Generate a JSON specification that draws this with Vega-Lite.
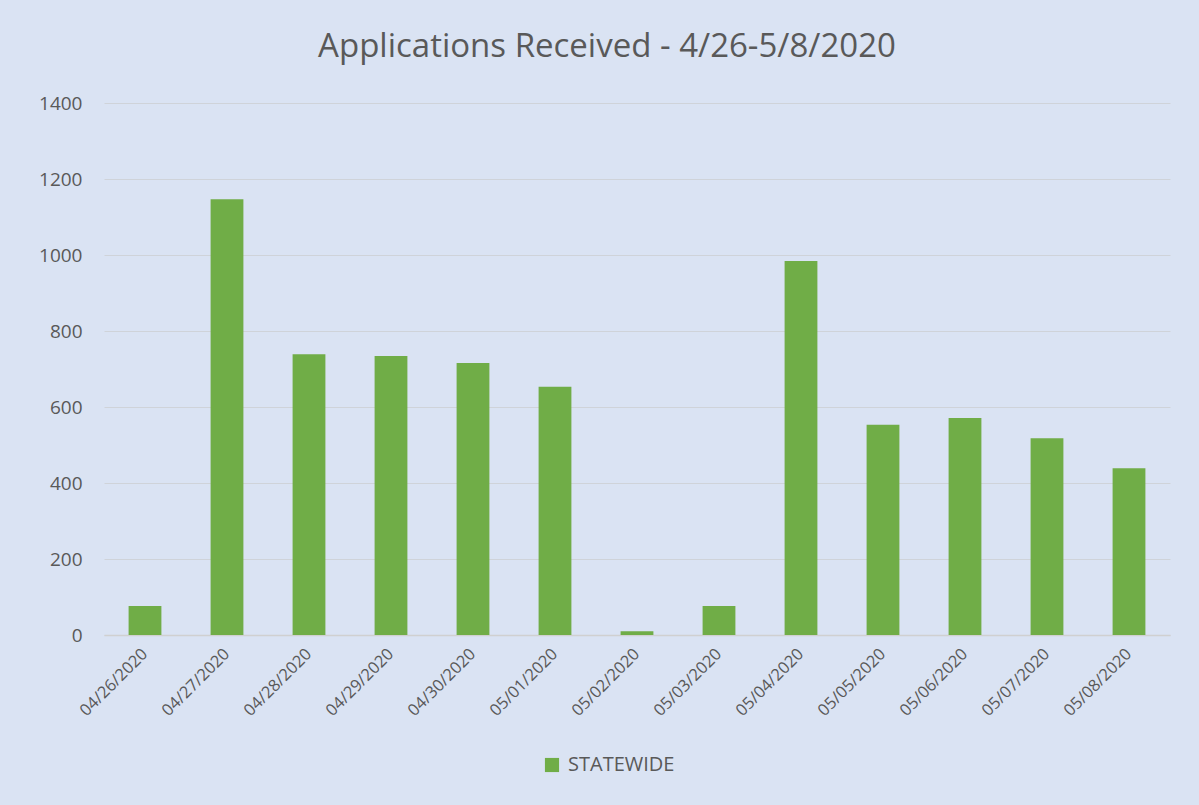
{
  "$schema": "https://vega.github.io/schema/vega-lite/v6.json",
  "autosize": "none",
  "width": 1066,
  "height": 532,
  "padding": {"left": 104, "top": 103, "right": 29, "bottom": 170},
  "background": "#dae3f3",
  "title": {
    "text": "Applications Received - 4/26-5/8/2020",
    "fontSize": 33,
    "font": "Open Sans",
    "fontWeight": "normal",
    "color": "#595959",
    "anchor": "middle",
    "dx": -30,
    "offset": 30
  },
  "data": {
    "values": [
      {"date": "04/26/2020", "series": "STATEWIDE", "count": 76},
      {"date": "04/27/2020", "series": "STATEWIDE", "count": 1147},
      {"date": "04/28/2020", "series": "STATEWIDE", "count": 739},
      {"date": "04/29/2020", "series": "STATEWIDE", "count": 734},
      {"date": "04/30/2020", "series": "STATEWIDE", "count": 716},
      {"date": "05/01/2020", "series": "STATEWIDE", "count": 653},
      {"date": "05/02/2020", "series": "STATEWIDE", "count": 10},
      {"date": "05/03/2020", "series": "STATEWIDE", "count": 76},
      {"date": "05/04/2020", "series": "STATEWIDE", "count": 984},
      {"date": "05/05/2020", "series": "STATEWIDE", "count": 553},
      {"date": "05/06/2020", "series": "STATEWIDE", "count": 571},
      {"date": "05/07/2020", "series": "STATEWIDE", "count": 518},
      {"date": "05/08/2020", "series": "STATEWIDE", "count": 439}
    ]
  },
  "mark": {"type": "bar"},
  "encoding": {
    "x": {
      "field": "date",
      "type": "nominal",
      "sort": null,
      "scale": {"paddingInner": 0.6, "paddingOuter": 0.3},
      "axis": {
        "title": null,
        "labelAngle": -45,
        "labelAlign": "right",
        "labelBaseline": "middle",
        "labelFontSize": 16.5,
        "labelFont": "Open Sans",
        "labelColor": "#595959",
        "labelPadding": 16,
        "ticks": false,
        "domainColor": "#d0d0d0",
        "domainWidth": 1.5,
        "grid": false
      }
    },
    "y": {
      "field": "count",
      "type": "quantitative",
      "scale": {"domain": [0, 1400]},
      "axis": {
        "title": null,
        "values": [0, 200, 400, 600, 800, 1000, 1200, 1400],
        "format": "d",
        "labelFontSize": 19,
        "labelFont": "Open Sans",
        "labelColor": "#595959",
        "labelPadding": 22,
        "ticks": false,
        "domain": false,
        "gridColor": "#cfd3d9",
        "gridWidth": 1.2
      }
    },
    "color": {
      "field": "series",
      "type": "nominal",
      "scale": {"range": ["#70ad47"]},
      "legend": {
        "title": null,
        "orient": "none",
        "legendX": 438,
        "legendY": 652,
        "symbolType": "square",
        "symbolSize": 200,
        "symbolStrokeWidth": 0,
        "labelFontSize": 20,
        "labelFont": "Open Sans",
        "labelColor": "#595959",
        "labelOffset": 6
      }
    }
  },
  "config": {"view": {"stroke": null}}
}
